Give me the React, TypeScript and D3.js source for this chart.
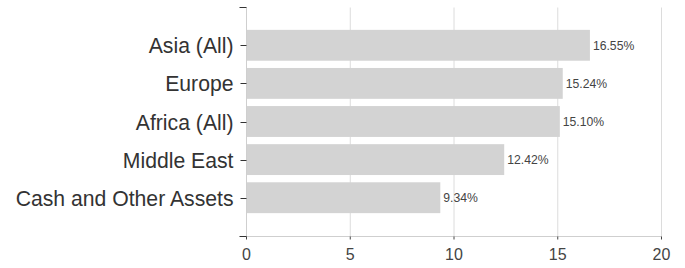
import React from "react";
import * as d3 from "d3";

const categories = ["Asia (All)", "Europe", "Africa (All)", "Middle East", "Cash and Other Assets"];
const values = [16.55, 15.24, 15.1, 12.42, 9.34];
const valueLabels = ["16.55%", "15.24%", "15.10%", "12.42%", "9.34%"];
const xTicks = [0, 5, 10, 15, 20];

const W = 685;
const H = 268;
const FONT = "'Liberation Sans', Arial, sans-serif";

export default function App() {
  const x = d3.scaleLinear().domain([0, 20]).range([246.5, 661.5]);
  const y = d3
    .scaleBand<string>()
    .domain(categories)
    .range([7, 236])
    .paddingInner(0.19)
    .paddingOuter(0.6);
  const y0 = 7.5;
  const y1 = 236.5;
  const x0 = x(0);

  return (
    <svg
      width={W}
      height={H}
      style={{ position: "absolute", left: 0, top: 0, background: "#fff" }}
    >
      {xTicks.slice(1).map((t) => (
        <line key={"g" + t} x1={x(t)} x2={x(t)} y1={y0} y2={y1} stroke="#dcdcdc" strokeWidth={1} />
      ))}
      {categories.map((c, i) => (
        <rect
          key={c}
          x={x0}
          y={y(c)!}
          width={x(values[i]) - x0}
          height={y.bandwidth()}
          fill="#d3d3d3"
        />
      ))}
      {categories.map((c, i) => (
        <text
          key={"v" + c}
          x={x(values[i]) + 3}
          y={y(c)! + y.bandwidth() / 2}
          dy="0.35em"
          fontFamily={FONT}
          fontSize={12.2}
          fill="#444"
        >
          {valueLabels[i]}
        </text>
      ))}
      <line x1={x0} x2={x(20)} y1={y1} y2={y1} stroke="#cfcfcf" strokeWidth={1} />
      <line x1={x0} x2={x0} y1={y0} y2={y1} stroke="#cfcfcf" strokeWidth={1} />
      {xTicks.map((t) => (
        <g key={"xt" + t}>
          <line x1={x(t)} x2={x(t)} y1={y1} y2={y1 + 3} stroke="#444" strokeWidth={1} />
          <text
            x={x(t)}
            y={254}
            dy="0.35em"
            textAnchor="middle"
            fontFamily={FONT}
            fontSize={16}
            fill="#444"
          >
            {t}
          </text>
        </g>
      ))}
      <line x1={x0 - 7} x2={x0} y1={y0} y2={y0} stroke="#333" strokeWidth={1} />
      <line x1={x0 - 7} x2={x0} y1={y1} y2={y1} stroke="#333" strokeWidth={1} />
      {categories.map((c) => {
        const cy = Math.round(y(c)! + y.bandwidth() / 2) + 0.5;
        return (
          <g key={"yt" + c}>
            <line x1={x0 - 6} x2={x0} y1={cy} y2={cy} stroke="#333" strokeWidth={1} />
            <text
              x={x0 - 13}
              y={cy}
              dy="0.35em"
              textAnchor="end"
              fontFamily={FONT}
              fontSize={21.2}
              fill="#333"
            >
              {c}
            </text>
          </g>
        );
      })}
    </svg>
  );
}
